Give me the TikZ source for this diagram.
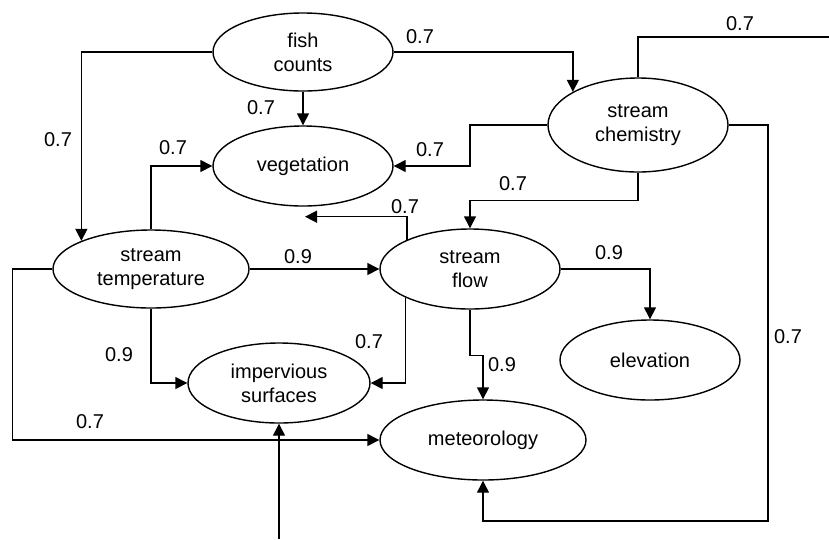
\documentclass[tikz,border=0pt]{standalone}
\usepackage{fontspec}
\setmainfont{Liberation Sans}
\usetikzlibrary{shapes.geometric,arrows.meta,calc}
\begin{document}
\begin{tikzpicture}[x=1pt,y=-1pt,
  var/.style={ellipse,draw,line width=1.4pt,inner sep=0pt,align=center,
    font=\fontsize{20}{24}\selectfont},
  conn/.style={line width=1.4pt,-{Triangle[length=12pt,width=12pt]}},
  wt/.style={font=\fontsize{20}{24}\selectfont,inner sep=0pt}]
\useasboundingbox (0,0) rectangle (829,539);
% nodes
\node[var,minimum width=180pt,minimum height=78pt] (fish) at (303,52) {fish\\counts};
\node[var,minimum width=180pt,minimum height=80pt] (veg) at (303,166) {vegetation};
\node[var,minimum width=196pt,minimum height=78pt] (temp) at (151,269) {stream\\temperature};
\node[var,minimum width=180pt,minimum height=94pt] (chem) at (638,125) {stream\\chemistry};
\node[var,minimum width=180pt,minimum height=80pt] (flow) at (470,269) {stream\\flow};
\node[var,minimum width=180pt,minimum height=80pt] (elev) at (650,360) {elevation};
\node[var,minimum width=206pt,minimum height=80pt] (met) at (483,440) {meteorology};
\node[var,minimum width=182pt,minimum height=80pt] (imp) at (279,383) {impervious\\surfaces};
% helper coordinates
\coordinate (chemend) at (829,37);
\coordinate (br) at (768,521);
\coordinate (vt) at ($(veg.south)+(2,10)$);
\coordinate (src) at (279,539);
% connectors
\draw[conn] (fish.west) -| (temp.158);
\draw[conn] (fish.east) -| (chem.153);
\draw[conn] (fish.south) -- (veg.north);
\draw[conn] (temp.north) |- (veg.west);
\draw[conn] (chem.west) -- (chem.west -| flow.north) |- (veg.east);
\draw[conn] (chem.south) -- ++(0,28) -| (flow.north);
\draw[line width=1.4pt] (chem.north) |- (chemend);
\draw[conn] (chem.east) -| (br) -| (met.south);
\draw[conn] (flow.155.6) |- (vt);
\draw[conn] (flow.204.4) |- (imp.east);
\draw[conn] (temp.east) -- (flow.west);
\draw[conn] (temp.south) |- (imp.west);
\draw[conn] (temp.west) -- ++(-40,0) |- (met.west);
\draw[conn] (flow.south) -- ++(0,46) -| (met.north);
\draw[conn] (flow.east) -| (elev.north);
\draw[conn] (src) -- (imp.south);
% weights
\node[wt] (w1) at (58,140) {0.7};
\node[wt] (w2) at (420,37) {0.7};
\node[wt] (w3) at (261,108) {0.7};
\node[wt] (w4) at (173,148) {0.7};
\node[wt] (w5) at (430,150) {0.7};
\node[wt] (w6) at (513,184) {0.7};
\node[wt] (w7) at (740,24) {0.7};
\node[wt] (w8) at (788,337) {0.7};
\node[wt] (w9) at (405,207) {0.7};
\node[wt] (w10) at (369,342) {0.7};
\node[wt] (w11) at (298,257) {0.9};
\node[wt] (w12) at (119,355) {0.9};
\node[wt] (w13) at (90,422) {0.7};
\node[wt] (w14) at (502,365) {0.9};
\node[wt] (w15) at (609,253) {0.9};
\end{tikzpicture}
\end{document}
